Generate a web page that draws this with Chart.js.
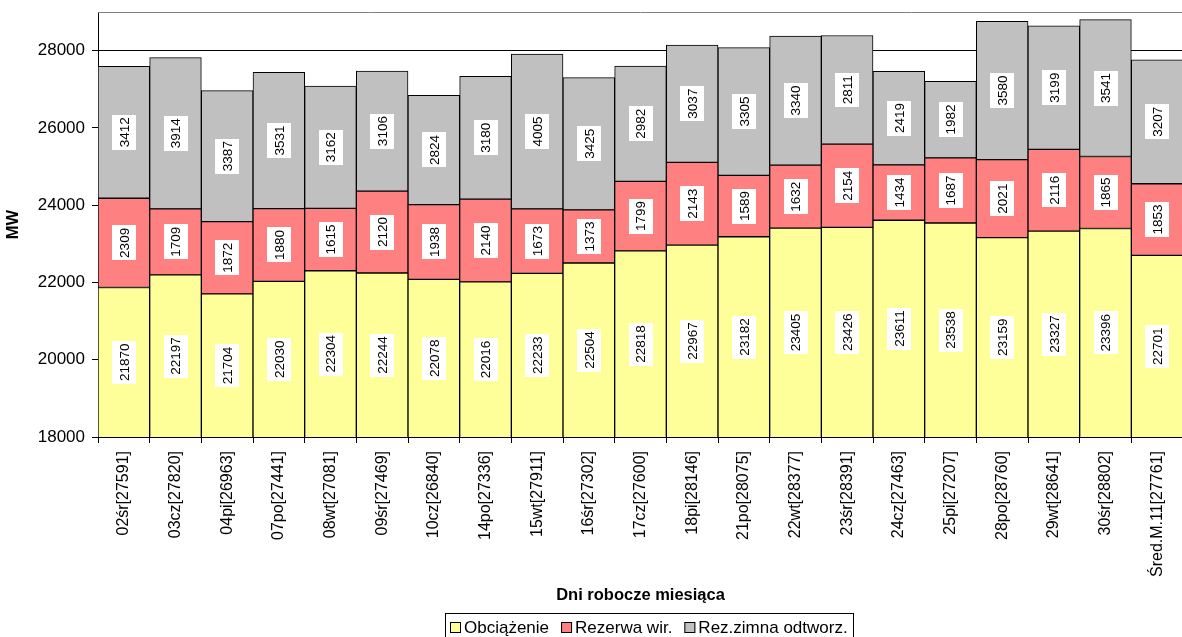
<!DOCTYPE html>
<html lang="pl">
<head>
<meta charset="utf-8">
<title>Obciążenie i rezerwy mocy – dni robocze</title>
<script src="https://cdn.jsdelivr.net/npm/chart.js@4.4.1/dist/chart.umd.min.js"></script>
<style>
  html, body { margin:0; padding:0; background:#fff; overflow:hidden; }
  canvas { display:block; }
</style>
</head>
<body>
<canvas id="chart" width="1185" height="642"></canvas>
<script>
// ================= DATA =================
const days = [
  "02śr[27591]", "03cz[27820]", "04pi[26963]", "07po[27441]", "08wt[27081]",
  "09śr[27469]", "10cz[26840]", "14po[27336]", "15wt[27911]", "16śr[27302]",
  "17cz[27600]", "18pi[28146]", "21po[28075]", "22wt[28377]", "23śr[28391]",
  "24cz[27463]", "25pi[27207]", "28po[28760]", "29wt[28641]", "30śr[28802]",
  "Śred.M.11[27761]"
];
const obciazenie = [21870, 22197, 21704, 22030, 22304, 22244, 22078, 22016, 22233, 22504,
  22818, 22967, 23182, 23405, 23426, 23611, 23538, 23159, 23327, 23396, 22701];
const rezerwaWir = [2309, 1709, 1872, 1880, 1615, 2120, 1938, 2140, 1673, 1373,
  1799, 2143, 1589, 1632, 2154, 1434, 1687, 2021, 2116, 1865, 1853];
const rezerwaZimna = [3412, 3914, 3387, 3531, 3162, 3106, 2824, 3180, 4005, 3425,
  2982, 3037, 3305, 3340, 2811, 2419, 1982, 3580, 3199, 3541, 3207];

const seriesNames = ["Obciążenie", "Rezerwa wir.", "Rez.zimna odtworz."];
const yTickValues = [18000, 20000, 22000, 24000, 26000, 28000];
const yMin = 18000, yMax = 29000;

const FONT = "'Liberation Sans', Arial, sans-serif";

// ================= PLUGINS =================
// white boxes with vertical values in the middle of each segment
const segmentLabels = {
  id: "segmentLabels",
  afterDatasetsDraw(chart){
    const { ctx, chartArea } = chart;
    ctx.save();
    ctx.font = `13.5px ${FONT}`;
    ctx.textAlign = "center";
    ctx.textBaseline = "middle";
    chart.data.datasets.forEach((ds, di) => {
      chart.getDatasetMeta(di).data.forEach((bar, i) => {
        const top = Math.max(Math.min(bar.y, bar.base), chartArea.top);
        const bottom = Math.min(Math.max(bar.y, bar.base), chartArea.bottom);
        const cy = (top + bottom) / 2;
        const text = String(ds.data[i]);
        const w = ctx.measureText(text).width;
        ctx.fillStyle = "#fff";
        ctx.fillRect(Math.round(bar.x - 12), Math.round(cy - w / 2 - 2.5), 24, Math.round(w + 5));
        ctx.save();
        ctx.translate(bar.x, cy);
        ctx.rotate(-Math.PI / 2);
        ctx.fillStyle = "#000";
        ctx.fillText(text, 0, 1);
        ctx.restore();
      });
    });
    ctx.restore();
  }
};

// top frame line + boxed legend under the axis title
const frameAndLegend = {
  id: "frameAndLegend",
  beforeDatasetsDraw(chart){
    const { ctx, chartArea } = chart;
    ctx.save();
    ctx.strokeStyle = "#808080";
    ctx.lineWidth = 1;
    ctx.beginPath();
    ctx.moveTo(chartArea.left, chartArea.top + 0.5);
    ctx.lineTo(chartArea.right, chartArea.top + 0.5);
    ctx.stroke();
    ctx.restore();
  },
  afterDraw(chart){
    const { ctx, chartArea } = chart;
    const items = chart.data.datasets;
    ctx.save();
    ctx.font = `17px ${FONT}`;
    const sq = 11, gapText = 3, gapItem = 12, pad = 5;
    const widths = items.map(d => ctx.measureText(d.label).width);
    const total = widths.reduce((s, w) => s + w + sq + gapText, 0) + gapItem * (items.length - 1);
    const boxW = total + pad * 2;
    const boxL = Math.round((chartArea.left + chartArea.right) / 2 + 8 - boxW / 2);
    const boxT = 613;
    ctx.fillStyle = "#fff";
    ctx.fillRect(boxL, boxT, boxW, 30);
    ctx.strokeStyle = "#000";
    ctx.lineWidth = 1;
    ctx.strokeRect(boxL + 0.5, boxT + 0.5, Math.round(boxW), 30);
    let x = boxL + pad;
    const cy = 628;
    ctx.textBaseline = "middle";
    ctx.textAlign = "left";
    items.forEach((d, i) => {
      ctx.fillStyle = d.backgroundColor;
      ctx.fillRect(x, cy - 6, sq, sq);
      ctx.strokeRect(x + 0.5, cy - 5.5, sq - 1, sq - 1);
      ctx.fillStyle = "#000";
      ctx.fillText(d.label, x + sq + gapText, cy);
      x += sq + gapText + widths[i] + gapItem;
    });
    ctx.restore();
  }
};

// ================= CHART =================
const barStyle = { borderColor: "#000", borderWidth: 1, borderSkipped: false,
  barPercentage: 1, categoryPercentage: 1 };

new Chart(document.getElementById("chart"), {
  type: "bar",
  data: {
    labels: days,
    datasets: [
      { label: seriesNames[0], data: obciazenie, backgroundColor: "#FFFF99", ...barStyle },
      { label: seriesNames[1], data: rezerwaWir, backgroundColor: "#FF8080", ...barStyle },
      { label: seriesNames[2], data: rezerwaZimna, backgroundColor: "#C0C0C0", ...barStyle }
    ]
  },
  options: {
    responsive: false,
    animation: false,
    devicePixelRatio: 1,
    layout: { padding: { top: 12, right: 2, left: 0, bottom: 0 } },
    plugins: { legend: { display: false }, tooltip: { enabled: false } },
    scales: {
      x: {
        stacked: true,
        grid: { drawOnChartArea: false, drawTicks: true, tickLength: 6, color: "#000", offset: true },
        border: { display: true, color: "#000", width: 1 },
        ticks: { minRotation: 90, maxRotation: 90, autoSkip: false, padding: 8,
          color: "#000", font: { family: FONT, size: 16 } },
        title: { display: true, text: "Dni robocze miesiąca", color: "#000",
          font: { family: FONT, size: 16.5, weight: "bold" }, padding: { top: 0, bottom: 37 } },
        afterFit(scale){ scale.height = 205; }
      },
      y: {
        stacked: true,
        min: yMin,
        max: yMax,
        afterBuildTicks(scale){ scale.ticks = yTickValues.map(v => ({ value: v })); },
        grid: { color: "#000", tickLength: 6, tickColor: "#000" },
        border: { display: true, color: "#000", width: 1 },
        ticks: { padding: 7, color: "#000", font: { family: FONT, size: 17 },
          callback: v => String(v) },
        title: { display: true, text: "MW", color: "#000",
          font: { family: FONT, size: 16.5, weight: "bold" }, padding: { top: 4, bottom: 0 } },
        afterFit(scale){
          scale.width = 98;
          scale.paddingTop = 0;
          scale.paddingBottom = 0;
        }
      }
    }
  },
  plugins: [segmentLabels, frameAndLegend]
});
</script>
</body>
</html>
